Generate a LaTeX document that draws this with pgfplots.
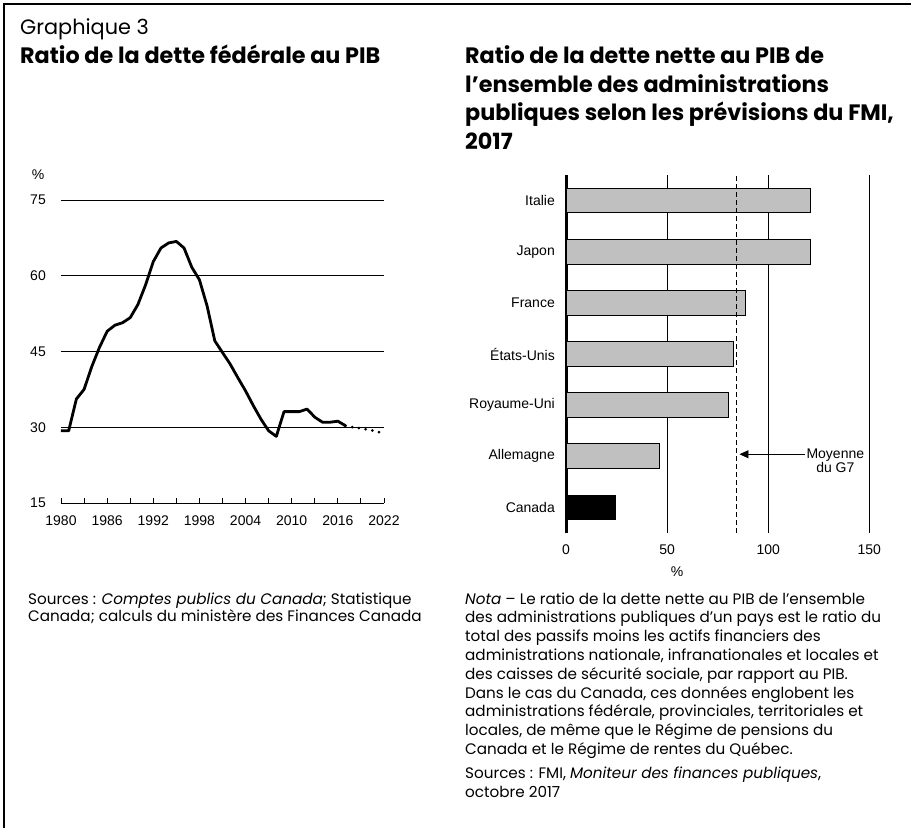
\documentclass[border=0pt]{standalone}
\usepackage{fontspec}
\usepackage{pgfplots}
\pgfplotsset{compat=1.18}
\usetikzlibrary{arrows.meta}
\setmainfont{Poppins}
\newfontfamily\arial{Liberation Sans}
\newcommand{\ttl}{\fontsize{22.3pt}{26pt}\selectfont}
\newcommand{\gra}{\fontsize{20.8pt}{25pt}\selectfont}
\newcommand{\txt}{\fontsize{15.2pt}{18pt}\selectfont}
\newcommand{\lab}{\arial\fontsize{14pt}{16pt}\selectfont}
\begin{document}
\begin{tikzpicture}
\useasboundingbox (0pt,0pt) rectangle (911pt,-828pt);
% frame
\draw[line width=2pt] (4pt,-828pt) -- (4pt,-4pt) -- (911pt,-4pt);
% titles
\node[anchor=base west, inner sep=0pt] at (20pt,-34pt) {\gra Graphique 3};
\node[anchor=base west, inner sep=0pt] at (20pt,-63pt) {\ttl\bfseries Ratio de la dette fédérale au PIB};
\node[anchor=base west, inner sep=0pt] at (465pt,-63pt) {\ttl\bfseries Ratio de la dette nette au PIB de};
\node[anchor=base west, inner sep=0pt] at (465pt,-92pt) {\ttl\bfseries l’ensemble des administrations};
\node[anchor=base west, inner sep=0pt] at (465pt,-120pt) {\ttl\bfseries publiques selon les prévisions du FMI,};
\node[anchor=base west, inner sep=0pt] at (465pt,-149pt) {\ttl\bfseries 2017};
% left chart
\node[anchor=center, inner sep=0pt] at (38pt,-175pt) {\lab \%};
\begin{axis}[
  at={(61pt,-503pt)}, anchor=south west,
  width=323pt, height=303pt, scale only axis,
  xmin=1980, xmax=2022, ymin=15, ymax=75,
  axis lines*=left,
  y axis line style={draw=none},
  x axis line style={black, line width=0.9pt},
  xtick={1980,1986,...,2022},
  minor xtick={1983,1989,...,2021},
  xtick align=inside,
  major tick length=5pt, minor tick length=5pt,
  xtick style={black, line width=0.9pt},
  minor tick style={black, line width=0.9pt},
  ytick={15,30,45,60,75},
  ytick style={draw=none},
  ymajorgrids, grid style={black, line width=0.9pt},
  xticklabel style={font=\lab, inner sep=0pt, anchor=north, yshift=-13pt},
  yticklabel style={font=\lab, inner sep=0pt, anchor=east, xshift=-15pt},
  /pgf/number format/assume math mode=true,
  /pgf/number format/1000 sep={},
  clip=false,
]
\addplot[black, line width=2.8pt, line join=round] coordinates {
(1980,29.3) (1981,29.3) (1982,35.6) (1983,37.5) (1984,42.0) (1985,45.8)
(1986,49.0) (1987,50.2) (1988,50.7) (1989,51.7) (1990,54.3) (1991,58.2)
(1992,62.8) (1993,65.5) (1994,66.5) (1995,66.8) (1996,65.5) (1997,61.7)
(1998,59.2) (1999,54.0) (2000,47.1) (2001,44.8) (2002,42.5) (2003,39.8)
(2004,37.2) (2005,34.3) (2006,31.6) (2007,29.3) (2008,28.2) (2009,33.1)
(2010,33.1) (2011,33.1) (2012,33.6) (2013,32.0) (2014,31.0) (2015,31.0)
(2016,31.2) (2017,30.3)
};
\addplot[black, line width=3pt, dash pattern=on 0pt off 6.8pt, line cap=round] coordinates {
(2017,30.3) (2018,30.0) (2019,29.8) (2020,29.5) (2021,29.2) (2022,28.7)
};
\end{axis}
% right chart
\begin{axis}[
  at={(566pt,-533pt)}, anchor=south west,
  width=303.3pt, height=358pt, scale only axis,
  xmin=0, xmax=150, ymin=-0.5, ymax=6.5,
  axis lines*=left,
  x axis line style={draw=none},
  y axis line style={black, line width=3pt},
  tick style={draw=none},
  xtick={0,50,100,150},
  ytick={0,...,6},
  yticklabels={Canada,Allemagne,Royaume-Uni,États-Unis,France,Japon,Italie},
  xmajorgrids, grid style={black, line width=0.9pt},
  xticklabel style={font=\lab, inner sep=0pt, anchor=north, yshift=-12pt},
  yticklabel style={font=\lab, inner sep=0pt, anchor=east, xshift=-11pt},
  /pgf/number format/assume math mode=true,
  clip=false,
]
\addplot[xbar, bar width=24.7pt, bar shift=0pt, fill={rgb,255:red,192;green,192;blue,192}, draw=black, line width=0.9pt] coordinates {
(46.2,1) (80.5,2) (83.0,3) (88.9,4) (121.1,5) (121.1,6)
};
\addplot[xbar, bar width=24.7pt, bar shift=0pt, fill=black, draw=black, line width=0.9pt] coordinates {
(24.6,0)
};
\addplot[sharp plot, black, line width=0.9pt, dash pattern=on 5pt off 3pt, forget plot] coordinates {(84.3,-0.5) (84.3,6.5)};
\draw[-{Triangle[length=9pt,width=8pt]}, line width=0.9pt] (axis cs:118.3,1.04) -- (axis cs:85.8,1.04);
\node[align=center, inner sep=0pt, font=\lab, text depth=0pt] at (axis cs:133.2,0.92) {Moyenne\\[-2pt]du G7};
\end{axis}
\node[anchor=center, inner sep=0pt] at (677pt,-572pt) {\lab \%};
% notes
\begin{scope}[every node/.style={anchor=base west, inner sep=0pt, font=\txt}]
\node at (28pt,-604pt) {Sources : \textit{Comptes publics du Canada}; Statistique};
\node at (28pt,-621pt) {Canada; calculs du ministère des Finances Canada};
\node at (465pt,-604pt) {\textit{Nota} – Le ratio de la dette nette au PIB de l’ensemble};
\node at (465pt,-622.8pt) {des administrations publiques d’un pays est le ratio du};
\node at (465pt,-641.6pt) {total des passifs moins les actifs financiers des};
\node at (465pt,-660.4pt) {administrations nationale, infranationales et locales et};
\node at (465pt,-679.2pt) {des caisses de sécurité sociale, par rapport au PIB.};
\node at (465pt,-698pt) {Dans le cas du Canada, ces données englobent les};
\node at (465pt,-716.8pt) {administrations fédérale, provinciales, territoriales et};
\node at (465pt,-735.6pt) {locales, de même que le Régime de pensions du};
\node at (465pt,-754.4pt) {Canada et le Régime de rentes du Québec.};
\node at (465pt,-778pt) {Sources : FMI, \textit{Moniteur des finances publiques},};
\node at (465pt,-797pt) {octobre 2017};
\end{scope}
\end{tikzpicture}
\end{document}
